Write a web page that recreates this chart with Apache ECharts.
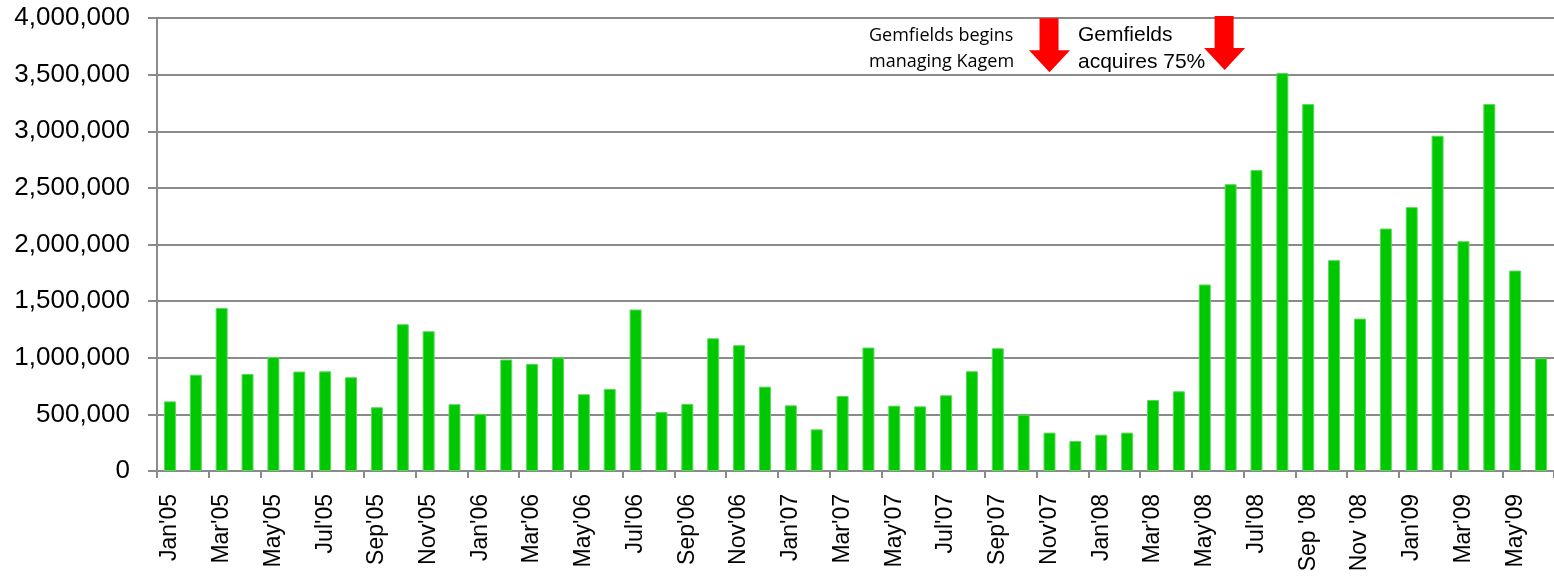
<!DOCTYPE html>
<html>
<head>
<meta charset="utf-8">
<script src="https://cdn.jsdelivr.net/npm/echarts@6/dist/echarts.min.js"></script>
<style>
  html, body { margin: 0; padding: 0; background: #fff; }
  #main { width: 1554px; height: 584px; }
</style>
</head>
<body>
<div id="main"></div>
<script>
// monthly production, Jan'05 - Jun'09
var months = [
  "Jan'05", "Feb'05", "Mar'05", "Apr'05", "May'05", "Jun'05", "Jul'05", "Aug'05", "Sep'05", "Oct'05", "Nov'05", "Dec'05",
  "Jan'06", "Feb'06", "Mar'06", "Apr'06", "May'06", "Jun'06", "Jul'06", "Aug'06", "Sep'06", "Oct'06", "Nov'06", "Dec'06",
  "Jan'07", "Feb'07", "Mar'07", "Apr'07", "May'07", "Jun'07", "Jul'07", "Aug'07", "Sep'07", "Oct'07", "Nov'07", "Dec'07",
  "Jan'08", "Feb'08", "Mar'08", "Apr'08", "May'08", "Jun'08", "Jul'08", "Aug'08", "Sep '08", "Oct '08", "Nov '08", "Dec '08",
  "Jan'09", "Feb'09", "Mar'09", "Apr'09", "May'09", "Jun'09"
];
var production = [
  615000, 850000, 1440000, 857000, 1007000, 878000, 880000, 828000, 563000, 1296000, 1234000, 590000,
  504000, 984000, 946000, 1004000, 678000, 725000, 1426000, 521000, 592000, 1172000, 1111000, 745000,
  580000, 368000, 663000, 1090000, 577000, 571000, 669000, 881000, 1084000, 498000, 339000, 265000,
  321000, 339000, 627000, 704000, 1647000, 2533000, 2657000, 3514000, 3240000, 1862000, 1346000, 2141000,
  2330000, 2960000, 2029000, 3240000, 1770000, 996000
];
var eventMonths = ["Nov'07", "Jun'08"];
var eventTexts = ["Gemfields begins\nmanaging Kagem", "Gemfields\nacquires 75%"];

var chart = echarts.init(document.getElementById('main'));
var arrowPath = 'path://M10.5,0 L29.5,0 L29.5,32 L41,32 L20.5,54 L0,32 L10.5,32 Z';

var option = {
  animation: false,
  grid: { left: 157, right: 0, top: 18, bottom: 113 },
  xAxis: {
    type: 'category',
    data: months,
    boundaryGap: true,
    axisLine: { lineStyle: { color: '#8a8a8a', width: 2 } },
    axisTick: { show: true, length: 7, lineStyle: { color: '#8a8a8a', width: 2 } },
    axisLabel: {
      interval: 1,
      rotate: 90,
      margin: 23,
      fontFamily: 'Liberation Sans',
      fontSize: 23,
      color: '#000'
    }
  },
  yAxis: {
    type: 'value',
    min: 0,
    max: 4000000,
    interval: 500000,
    axisLine: { show: true, lineStyle: { color: '#8a8a8a', width: 2 } },
    axisTick: { show: true, length: 9, lineStyle: { color: '#8a8a8a', width: 2 } },
    splitLine: { lineStyle: { color: '#8a8a8a', width: 2 } },
    axisLabel: {
      margin: 27,
      fontFamily: 'Liberation Sans',
      fontSize: 26,
      color: '#000',
      formatter: function (v) { return v.toLocaleString('en-US'); }
    }
  },
  series: [{
    type: 'bar',
    data: production,
    barWidth: 12,
    itemStyle: { color: '#00c800', borderColor: '#5cd85c', borderWidth: 1 },
    markPoint: {
      symbol: arrowPath,
      symbolKeepAspect: false,
      label: { show: false },
      itemStyle: { color: '#ff0000' },
      data: [
        { coord: [eventMonths[0], 3760000], symbolSize: [41, 54] },
        { coord: [eventMonths[1], 3780000], symbolSize: [41, 54], symbolOffset: [-6, 0] }
      ]
    }
  }],
  graphic: [
    {
      type: 'text', left: 869, top: 23,
      style: { text: eventTexts[0], font: '18px "Open Sans"', lineHeight: 26, fill: '#000' }
    },
    {
      type: 'text', left: 1078, top: 22,
      style: { text: eventTexts[1], font: '21px "Liberation Sans"', lineHeight: 27, fill: '#000' }
    }
  ]
};
chart.setOption(option);
</script>
</body>
</html>
